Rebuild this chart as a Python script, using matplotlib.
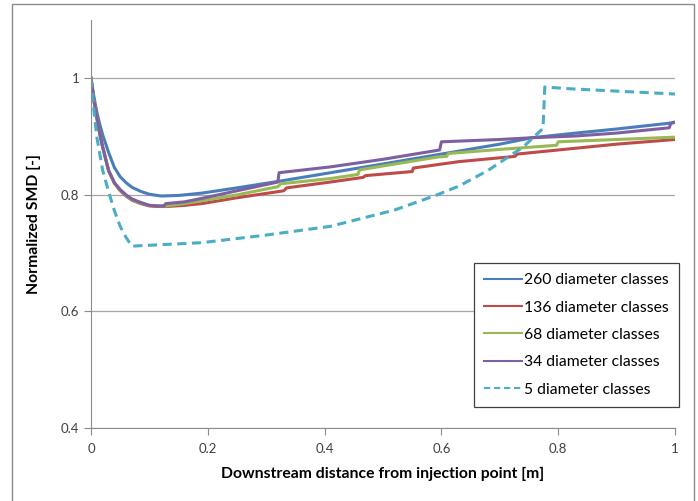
import matplotlib.pyplot as plt
from matplotlib.patches import Rectangle

# 260 diameter classes
x260 = [0, 0.005, 0.01, 0.015, 0.02, 0.03, 0.04, 0.05, 0.06, 0.07, 0.085, 0.1, 0.12, 0.15, 0.19,
        0.25, 0.32, 0.41, 0.5, 0.6, 0.7, 0.755, 0.83, 0.9, 1.0]
y260 = [1.0, 0.968, 0.942, 0.921, 0.903, 0.873, 0.847, 0.831, 0.821, 0.813, 0.806, 0.801, 0.798, 0.799, 0.803,
        0.812, 0.823, 0.838, 0.853, 0.870, 0.887, 0.898, 0.906, 0.913, 0.924]

# 136 diameter classes
x136 = [0, 0.005, 0.01, 0.015, 0.02, 0.03, 0.04, 0.05, 0.06, 0.07, 0.085, 0.1, 0.115, 0.13, 0.16, 0.19,
        0.25, 0.33, 0.335, 0.41, 0.466, 0.47, 0.55, 0.552, 0.63, 0.726, 0.73, 0.83, 0.9, 1.0]
y136 = [1.0, 0.962, 0.932, 0.905, 0.882, 0.842, 0.82, 0.807, 0.798, 0.791, 0.785, 0.781, 0.780, 0.780, 0.782,
        0.785, 0.795, 0.807, 0.812, 0.822, 0.830, 0.833, 0.840, 0.846, 0.857, 0.866, 0.870, 0.880, 0.887, 0.895]

# 68 diameter classes
x68 = [0, 0.005, 0.01, 0.015, 0.02, 0.03, 0.04, 0.05, 0.06, 0.07, 0.085, 0.1, 0.115, 0.13, 0.16, 0.19,
       0.25, 0.32, 0.325, 0.41, 0.457, 0.46, 0.594, 0.609, 0.612, 0.7, 0.797, 0.8, 0.9, 1.0]
y68 = [1.0, 0.962, 0.932, 0.905, 0.882, 0.842, 0.82, 0.808, 0.799, 0.792, 0.786, 0.782, 0.781, 0.781, 0.785,
       0.790, 0.800, 0.814, 0.819, 0.828, 0.835, 0.843, 0.865, 0.866, 0.871, 0.878, 0.885, 0.891, 0.895, 0.899]

# 34 diameter classes
x34 = [0, 0.005, 0.01, 0.015, 0.02, 0.03, 0.04, 0.05, 0.06, 0.07, 0.085, 0.1, 0.115, 0.125, 0.128, 0.16,
       0.19, 0.25, 0.32, 0.322, 0.41, 0.5, 0.597, 0.6, 0.7, 0.755, 0.83, 0.9, 0.99, 0.993, 1.0]
y34 = [1.0, 0.962, 0.932, 0.905, 0.882, 0.842, 0.821, 0.809, 0.800, 0.793, 0.787, 0.782, 0.781, 0.781, 0.785,
       0.788, 0.794, 0.807, 0.822, 0.838, 0.848, 0.861, 0.877, 0.891, 0.895, 0.898, 0.901, 0.906, 0.915, 0.923,
       0.925]

# 5 diameter classes
x5 = [0, 0.005, 0.01, 0.02, 0.03, 0.04, 0.05, 0.06, 0.07, 0.19, 0.3, 0.41, 0.52, 0.59, 0.63, 0.68, 0.74,
      0.774, 0.777, 0.82, 1.0]
y5 = [1.0, 0.945, 0.899, 0.842, 0.806, 0.773, 0.746, 0.727, 0.712, 0.718, 0.731, 0.746, 0.774, 0.799, 0.815,
      0.842, 0.882, 0.914, 0.985, 0.982, 0.973]

series = [
    (x260, y260, '260 diameter classes', '#4A7EBB', '-'),
    (x136, y136, '136 diameter classes', '#BE4B48', '-'),
    (x68, y68, '68 diameter classes', '#98B954', '-'),
    (x34, y34, '34 diameter classes', '#7D60A0', '-'),
    (x5, y5, '5 diameter classes', '#4BACC6', '--'),
]

plt.rcParams['font.family'] = ['Lato', 'DejaVu Sans']

fig = plt.figure(figsize=(6.98, 5.01), dpi=100)
ax = fig.add_axes([91 / 698, 1 - 428 / 501, (675 - 91) / 698, (428 - 20) / 501])

for xs, ys, lab, col, ls in series:
    ax.plot(xs, ys, color=col, lw=2.2, ls=ls, label=lab,
            dashes=(3, 1.8) if ls == '--' else (None, None))

ax.set_xlim(0, 1)
ax.set_ylim(0.4, 1.1)
ax.set_xticks([0, 0.2, 0.4, 0.6, 0.8, 1])
ax.set_xticklabels(['0', '0.2', '0.4', '0.6', '0.8', '1'])
ax.set_yticks([0.4, 0.6, 0.8, 1.0])
ax.set_yticklabels(['0.4', '0.6', '0.8', '1'])
ax.yaxis.grid(True, color='#a6a6a6', lw=0.9)
ax.set_axisbelow(True)
for s in ['top', 'right']:
    ax.spines[s].set_visible(False)
for s in ['left', 'bottom']:
    ax.spines[s].set_color('#8c8c8c')
ax.tick_params(colors='#8c8c8c', length=5, labelsize=9.5, labelcolor='#404040')
ax.tick_params(axis='x', pad=6)

ax.set_xlabel('Downstream distance from injection point [m]', fontsize=11.3, fontweight='bold', labelpad=8)
ax.set_ylabel('Normalized SMD [-]', fontsize=11.3, fontweight='bold', labelpad=14)

leg = ax.legend(loc='upper left', bbox_to_anchor=(474 / 698, 1 - 263 / 501),
                bbox_transform=fig.transFigure, fontsize=11.3, frameon=True,
                fancybox=False, framealpha=1, edgecolor='#404040', borderaxespad=0,
                handlelength=2.4, labelspacing=0.85, borderpad=0.65, handletextpad=0.15)
leg.get_frame().set_linewidth(0.9)
for h in leg.get_lines():
    h.set_linewidth(1.5)

# chart area border
fig.patches.append(Rectangle((12 / 698, -0.02), (694 - 12) / 698, 1.02 - 4 / 501,
                             transform=fig.transFigure, fill=False, edgecolor='#8c8c8c', lw=1))

fig.savefig('out.png', dpi=100)
